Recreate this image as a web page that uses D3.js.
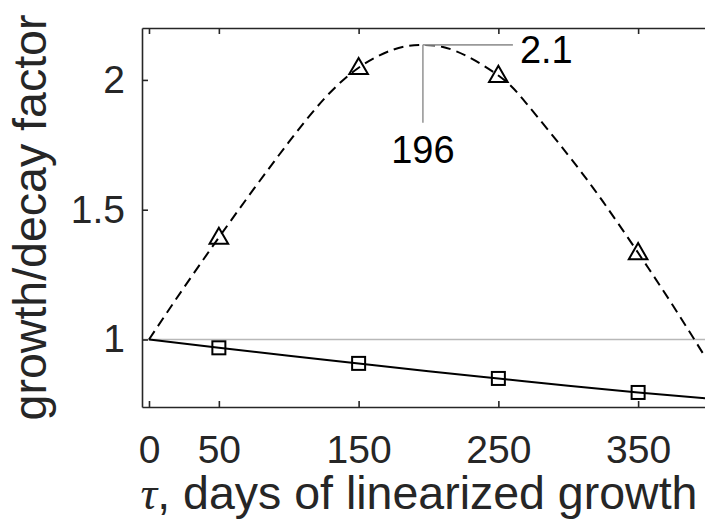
<!DOCTYPE html>
<html>
<head>
<meta charset="utf-8">
<script src="https://cdn.jsdelivr.net/npm/d3@7"></script>
<style>
  body { margin: 0; background: #fff; }
  svg { display: block; font-family: "Liberation Sans", Arial, Helvetica, sans-serif; }
</style>
</head>
<body>
<svg id="chart" width="705" height="525"></svg>
<script>
// values
var xTicks = [0, 50, 150, 250, 350];
var yTicks = [1, 1.5, 2];

var growthX = [0, 25, 50, 75, 100, 125, 150, 175, 196, 220, 250, 270, 300, 325, 350, 375, 400];
var growthY = [1, 1.20, 1.393, 1.58, 1.76, 1.925, 2.047, 2.117, 2.135, 2.11, 2.017, 1.91, 1.71, 1.53, 1.334, 1.13, 0.915];
var decayX = [0, 50, 100, 150, 200, 250, 300, 350, 400];
var decayY = [1, 0.968, 0.937, 0.908, 0.878, 0.85, 0.822, 0.796, 0.773];

var markX = [50, 150, 250, 350];
var growthMarks = [1.393, 2.047, 2.017, 1.334];
var decayMarks = [0.968, 0.908, 0.85, 0.796];

var peakX = 196, peakY = 2.135;
var peakLabelX = "196", peakLabelY = "2.1";

var svg = d3.select("#chart");
var axisColor = "#262626";

var x = d3.scaleLinear().domain([-5, 400]).range([142, 708]);
var y = d3.scaleLinear().domain([0.74, 2.2]).range([407, 28]);

svg.append("clipPath").attr("id", "plotclip")
  .append("rect")
  .attr("x", x.range()[0]).attr("y", y.range()[1])
  .attr("width", x.range()[1] - x.range()[0])
  .attr("height", y.range()[0] - y.range()[1]);

var plot = svg.append("g").attr("clip-path", "url(#plotclip)");

// reference line at 1
plot.append("line")
  .attr("x1", x.range()[0]).attr("x2", x.range()[1])
  .attr("y1", y(1)).attr("y2", y(1))
  .attr("stroke", "#b8b8b8").attr("stroke-width", 1.3);

var line = d3.line()
  .x(function(d) { return x(d[0]); })
  .y(function(d) { return y(d[1]); })
  .curve(d3.curveNatural);

plot.append("path")
  .datum(d3.zip(growthX, growthY))
  .attr("d", line)
  .attr("fill", "none")
  .attr("stroke", "#000")
  .attr("stroke-width", 2)
  .attr("stroke-dasharray", "10,6");

plot.append("path")
  .datum(d3.zip(decayX, decayY))
  .attr("d", line)
  .attr("fill", "none")
  .attr("stroke", "#000")
  .attr("stroke-width", 2);

// markers
var tri = d3.symbol().type(d3.symbolTriangle).size(150);
plot.selectAll(".tri")
  .data(d3.zip(markX, growthMarks))
  .enter().append("path")
  .attr("class", "tri")
  .attr("d", tri)
  .attr("transform", function(d) { return "translate(" + x(d[0]) + "," + (y(d[1]) + 1) + ")"; })
  .attr("fill", "none").attr("stroke", "#000").attr("stroke-width", 2);

plot.selectAll(".sq")
  .data(d3.zip(markX, decayMarks))
  .enter().append("rect")
  .attr("class", "sq")
  .attr("x", function(d) { return x(d[0]) - 6.5; })
  .attr("y", function(d) { return y(d[1]) - 6.5; })
  .attr("width", 13).attr("height", 13)
  .attr("fill", "none").attr("stroke", "#000").attr("stroke-width", 2);

// peak annotation
svg.append("line")
  .attr("x1", x(peakX)).attr("x2", x(peakX) + 90)
  .attr("y1", y(peakY)).attr("y2", y(peakY))
  .attr("stroke", "#999").attr("stroke-width", 1.6);
svg.append("line")
  .attr("x1", x(peakX)).attr("x2", x(peakX))
  .attr("y1", y(peakY)).attr("y2", y(peakY) + 78)
  .attr("stroke", "#999").attr("stroke-width", 1.6);
svg.append("text")
  .attr("x", x(peakX) + 97).attr("y", y(peakY) + 18)
  .attr("font-size", 38).attr("fill", "#000")
  .text(peakLabelY);
svg.append("text")
  .attr("x", x(peakX)).attr("y", y(peakY) + 118)
  .attr("text-anchor", "middle")
  .attr("font-size", 38).attr("fill", "#000")
  .text(peakLabelX);

// axes
var axisBottom = d3.axisBottom(x).tickValues(xTicks).tickSizeInner(-6).tickSizeOuter(0).tickPadding(28);
var axisTop = d3.axisTop(x).tickValues(xTicks).tickSizeInner(-6).tickSizeOuter(0).tickFormat("");
var axisLeft = d3.axisLeft(y).tickValues(yTicks).tickSizeInner(-6).tickSizeOuter(0).tickPadding(17)
  .tickFormat(d3.format("~g"));

function style(g) {
  g.select(".domain").attr("stroke", axisColor).attr("stroke-width", 1.6);
  g.selectAll(".tick line").attr("stroke", axisColor).attr("stroke-width", 1.6);
  g.selectAll(".tick text").attr("fill", "#262626").attr("font-size", 39)
    .attr("font-family", "'Liberation Sans', Arial, Helvetica, sans-serif");
}

svg.append("g").attr("transform", "translate(0," + y.range()[0] + ")").call(axisBottom).call(style);
svg.append("g").attr("transform", "translate(0," + y.range()[1] + ")").call(axisTop).call(style);
svg.append("g").attr("transform", "translate(" + x.range()[0] + ",0)").call(axisLeft).call(style);

// axis labels
var xl = svg.append("text")
  .attr("x", 419).attr("y", 509)
  .attr("text-anchor", "middle")
  .attr("font-size", 46.5).attr("fill", "#262626");
xl.append("tspan").attr("font-family", "'Liberation Serif', 'DejaVu Serif', serif").attr("font-style", "italic").text("\u03C4");
xl.append("tspan").text(", days of linearized growth");

svg.append("text")
  .attr("transform", "translate(46," + ((y.range()[0] + y.range()[1]) / 2) + ") rotate(-90)")
  .attr("text-anchor", "middle")
  .attr("font-size", 46.5).attr("fill", "#262626")
  .text("growth/decay factor");
</script>
</body>
</html>
